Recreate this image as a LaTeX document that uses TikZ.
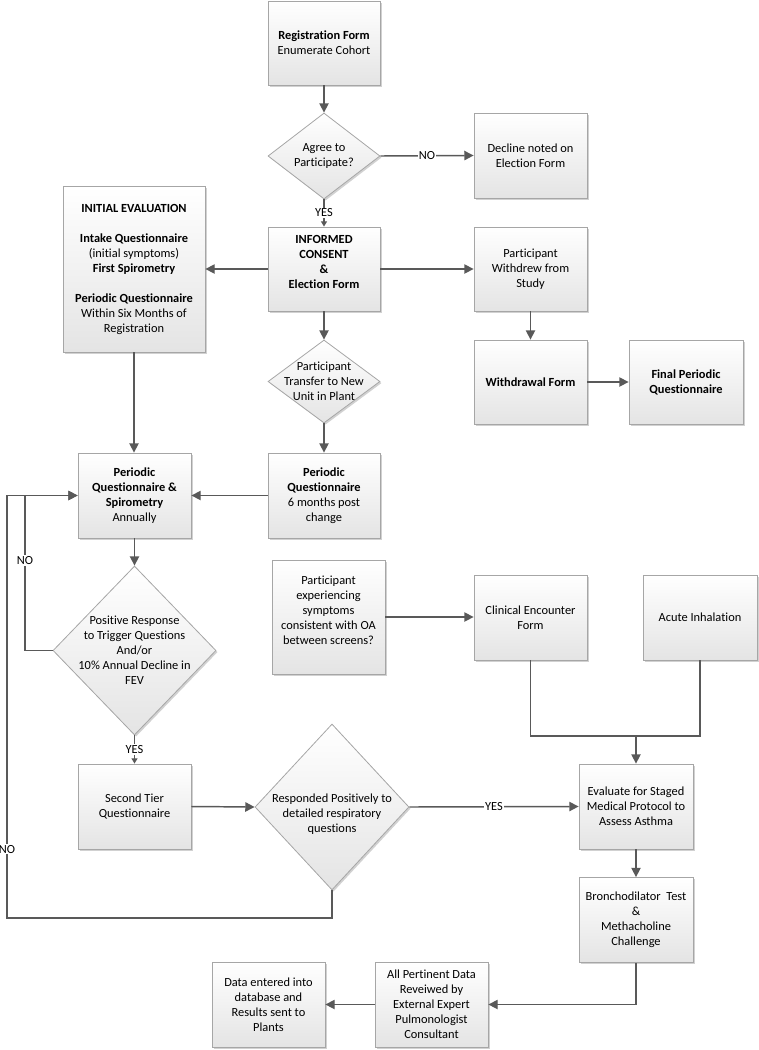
\documentclass[tikz,border=0pt]{standalone}
\usepackage{fontspec}
\setmainfont{Carlito}[Ligatures={NoCommon,NoContextual}]
\usetikzlibrary{arrows.meta,shapes.geometric,shadows}
\definecolor{linegray}{HTML}{595959}
\definecolor{bordergray}{HTML}{A6A6A6}
\definecolor{fillbot}{HTML}{E4E4E4}
\tikzset{
  base/.style={draw=bordergray, line width=0.6pt, top color=white, bottom color=fillbot,
    align=center, inner sep=1pt, font=\fontsize{9.3}{11.25}\selectfont,
    drop shadow={shadow xshift=1.2pt, shadow yshift=-1.2pt, opacity=0.18, fill=black}},
  bx/.style 2 args={base, rectangle, minimum width=#1*0.75pt, minimum height=#2*0.75pt},
  dia/.style 2 args={base, diamond, minimum width=#1*0.75pt, minimum height=#2*0.75pt, inner sep=0pt},
  txt/.style={align=center, inner sep=0pt, font=\fontsize{9.3}{11.25}\selectfont},
  conn/.style={draw=linegray, line width=1.1pt, -{Triangle[length=7pt,width=7pt]}},
  plain/.style={draw=linegray, line width=1.1pt},
  smallarr/.style={draw=linegray, line width=1.1pt, -{Triangle[length=4pt,width=4.5pt]}},
  lbl/.style={fill=white, inner sep=0.8pt, font=\fontsize{9.3}{11.25}\selectfont, text=black}
}
\begin{document}
\begin{tikzpicture}[x=0.75pt,y=-0.75pt]
\path[use as bounding box] (0,0) rectangle (759,1050);

% nodes
\node[bx={112}{84}] (reg) at (324,43) {\textbf{Registration Form}\\Enumerate Cohort};
\node[dia={112}{86}] (agree) at (324,156) {};
\node[txt] at (agree) {Agree to\\Participate?};
\node[bx={113}{85}] (decline) at (530.5,155.5) {Decline noted on\\Election Form};
\node[bx={112}{84}] (ic) at (324,269) {};
\node[txt] at (324,262) {\textbf{INFORMED}\\\textbf{CONSENT}\\\textbf{\&}\\\textbf{Election Form}};
\node[bx={142}{166}] (init) at (134,269) {\textbf{INITIAL EVALUATION}\\[11.25pt]\textbf{Intake Questionnaire}\\(initial symptoms)\\\textbf{First Spirometry}\\[11.25pt]\textbf{Periodic Questionnaire}\\Within Six Months of\\Registration};
\node[bx={113}{84}] (withdrew) at (530.5,269) {Participant\\Withdrew from\\Study};
\node[bx={113}{84}] (wform) at (530.5,382) {\textbf{Withdrawal Form}};
\node[bx={114}{84}] (final) at (686,382) {\textbf{Final Periodic}\\\textbf{Questionnaire}};
\node[dia={112}{83}] (transfer) at (324,381.5) {};
\node[txt] at (transfer) {Participant\\Transfer to New\\Unit in Plant};
\node[bx={112}{85}] (pqsix) at (324,495.5) {\textbf{Periodic}\\\textbf{Questionnaire}\\6 months post\\change};
\node[bx={113}{85}] (pqs) at (134.5,495.5) {\textbf{Periodic}\\\textbf{Questionnaire \&}\\\textbf{Spirometry}\\Annually};
\node[dia={163}{169}] (positive) at (134.5,650.5) {};
\node[txt] at (positive) {Positive Response\\to Trigger Questions\\And/or\\10\% Annual Decline in\\FEV};
\node[bx={113}{114}] (partexp) at (328.5,617) {};
\node[txt] at (328.5,610) {Participant\\experiencing\\symptoms\\consistent with OA\\between screens?};
\node[bx={113}{85}] (clinical) at (530.5,617.5) {Clinical Encounter\\Form};
\node[bx={114}{85}] (acute) at (700,617.5) {Acute Inhalation};
\node[bx={113}{85}] (second) at (134.5,806.5) {Second Tier\\Questionnaire};
\node[dia={154}{166}] (responded) at (332,807) {};
\node[txt] at (332,814) {Responded Positively to\\detailed respiratory\\questions};
\node[bx={114}{85}] (evaluate) at (636,806.5) {Evaluate for Staged\\Medical Protocol to\\Assess Asthma};
\node[bx={114}{85}] (broncho) at (636,920) {Bronchodilator~~Test\\\&\\Methacholine\\Challenge};
\node[bx={113}{85}] (pertinent) at (431.5,1004.5) {All Pertinent Data\\Reveiwed by\\External Expert\\Pulmonologist\\Consultant};
\node[bx={113}{85}] (data) at (268.5,1004.5) {Data entered into\\database and\\Results sent to\\Plants};

\coordinate (noA) at (25,650.5);
\coordinate (noB) at (332,918);
\coordinate (noC) at (7,918);
\coordinate (jn) at (636,736);

% connectors
\draw[conn] (reg.south) -- (agree.north);
\draw[conn] (agree.east) -- node[lbl]{NO} (decline.west);
\draw[smallarr] (agree.south) -- node[lbl]{YES} (ic.north);
\draw[conn] (ic.west) -- (init.east);
\draw[conn] (ic.east) -- (withdrew.west);
\draw[conn] (withdrew.south) -- (wform.north);
\draw[conn] (wform.east) -- (final.west);
\draw[conn] (ic.south) -- (transfer.north);
\draw[conn] (transfer.south) -- (pqsix.north);
\draw[conn] (init.south) -- (init.south |- pqs.north);
\draw[conn] (pqsix.west) -- (pqs.east);
\draw[conn] (pqs.south) -- (positive.north);
\draw[conn] (positive.west) -- (noA) -- node[lbl, pos=0.58]{NO} (noA |- pqs.west) -- (pqs.west);
\draw[smallarr] (positive.south) -- node[lbl]{YES} (second.north);
\draw[conn] (second.east) -- (responded.west);
\draw[conn] (responded.east) -- node[lbl]{YES} (evaluate.west);
\draw[conn] (responded.south) -- (noB) -- (noC) -- node[lbl, pos=0.163]{NO} (noC |- pqs.west) -- (pqs.west);
\draw[conn] (partexp.east) -- (partexp.east -| clinical.west);
\draw[plain] (clinical.south) -- (clinical.south |- jn) -- (acute.south |- jn) -- (acute.south);
\draw[conn] (jn) -- (evaluate.north);
\draw[conn] (evaluate.south) -- (broncho.north);
\draw[conn] (broncho.south) |- (pertinent.east);
\draw[conn] (pertinent.west) -- (data.east);
\end{tikzpicture}
\end{document}
